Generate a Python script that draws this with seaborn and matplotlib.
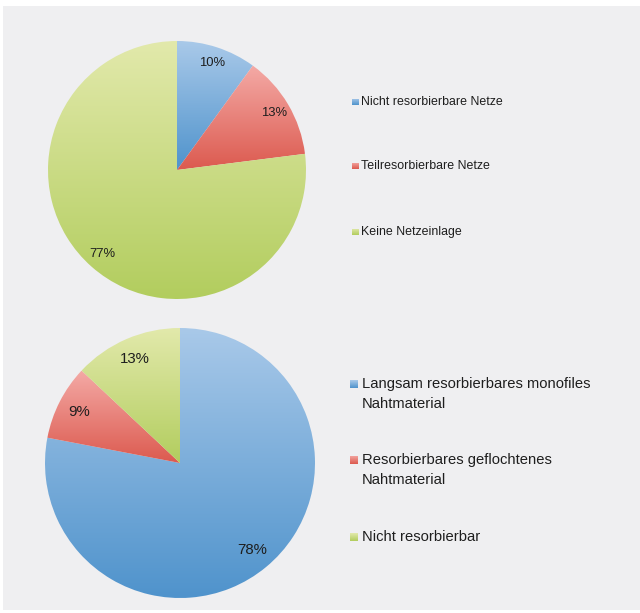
import numpy as np
import matplotlib
matplotlib.use("Agg")
import matplotlib.pyplot as plt
import seaborn as sns
from matplotlib.colors import LinearSegmentedColormap
from matplotlib.patches import Rectangle

sns.set_theme(style="white")
plt.rcParams['font.family'] = ['Liberation Sans', 'DejaVu Sans']

# ---- data ----
mesh_labels = ["Nicht resorbierbare Netze", "Teilresorbierbare Netze", "Keine Netzeinlage"]
mesh_values = [10, 13, 77]
suture_labels = ["Langsam resorbierbares monofiles\nNahtmaterial",
                 "Resorbierbares geflochtenes\nNahtmaterial",
                 "Nicht resorbierbar"]
suture_values = [78, 9, 13]

# ---- style ----
light = ["#a9c9e9", "#f4aaa6", "#e2e9ab"]
dark = ["#4f93cc", "#dc5a4f", "#b2cd5e"]
text_color = "#1e1e1e"
bg = "#efeff1"

W, H = 640, 613
fig = plt.figure(figsize=(W / 100, H / 100), dpi=100, facecolor="white")
fig.patches.append(Rectangle((3 / W, 3 / H), (W - 3) / W, (H - 9) / H, transform=fig.transFigure,
                             facecolor=bg, edgecolor="none", zorder=-10))


def px(x, y):
    return x / W, 1 - y / H


def make_pie(cx, cy, r, values, fs, pctd):
    pad = 8
    s = r + pad
    ax = fig.add_axes([(cx - s) / W, 1 - (cy + s) / H, 2 * s / W, 2 * s / H])
    ax.patch.set_alpha(0)
    wedges, texts, autotexts = ax.pie(values, startangle=90, counterclock=False, radius=1,
                                      autopct=lambda p: f"{p:.0f}%", pctdistance=pctd,
                                      wedgeprops=dict(linewidth=0, edgecolor="none"),
                                      textprops=dict(fontsize=fs, color=text_color))
    grad = np.linspace(0, 1, 256).reshape(-1, 1)
    for i, w in enumerate(wedges):
        bb = w.get_path().get_extents()
        w.set_facecolor("none")
        cmap = LinearSegmentedColormap.from_list(f"g{i}", [light[i], dark[i]])
        im = ax.imshow(grad, cmap=cmap, extent=[bb.x0, bb.x1, bb.y0, bb.y1],
                       origin="upper", aspect="auto", zorder=0, interpolation="bilinear")
        im.set_clip_path(w)
    ax.set_xlim(-s / r, s / r)
    ax.set_ylim(-s / r, s / r)
    ax.set_aspect("equal")
    ax.axis("off")
    return ax


def make_legend(labels, x_mark, x_text, ys, fs, msize, linespacing):
    fpx = fs * 100 / 72
    for i, (lbl, y) in enumerate(zip(labels, ys)):
        gx, gy = px(x_mark - msize / 2, y + msize / 2)
        cax = fig.add_axes([gx, gy, msize / W, msize / H])
        cax.imshow(np.linspace(0, 1, 32).reshape(-1, 1),
                   cmap=LinearSegmentedColormap.from_list(f"l{i}", [light[i], dark[i]]),
                   aspect="auto", extent=[0, 1, 0, 1])
        cax.axis("off")
        tx, ty = px(x_text, y - fpx * 0.45)
        fig.text(tx, ty, lbl, fontsize=fs, color=text_color, va="top", ha="left",
                 linespacing=linespacing)


make_pie(177, 170, 129, mesh_values, 9.4, 0.87)
make_pie(180, 463, 135, suture_values, 10.8, 0.84)

make_legend(mesh_labels, 355, 361, [102, 166, 232], 8.9, 7, 1.2)
make_legend(suture_labels, 354, 362, [384, 460, 537], 10.6, 8, 1.5)

fig.savefig("out.png", dpi=100, facecolor="white")
